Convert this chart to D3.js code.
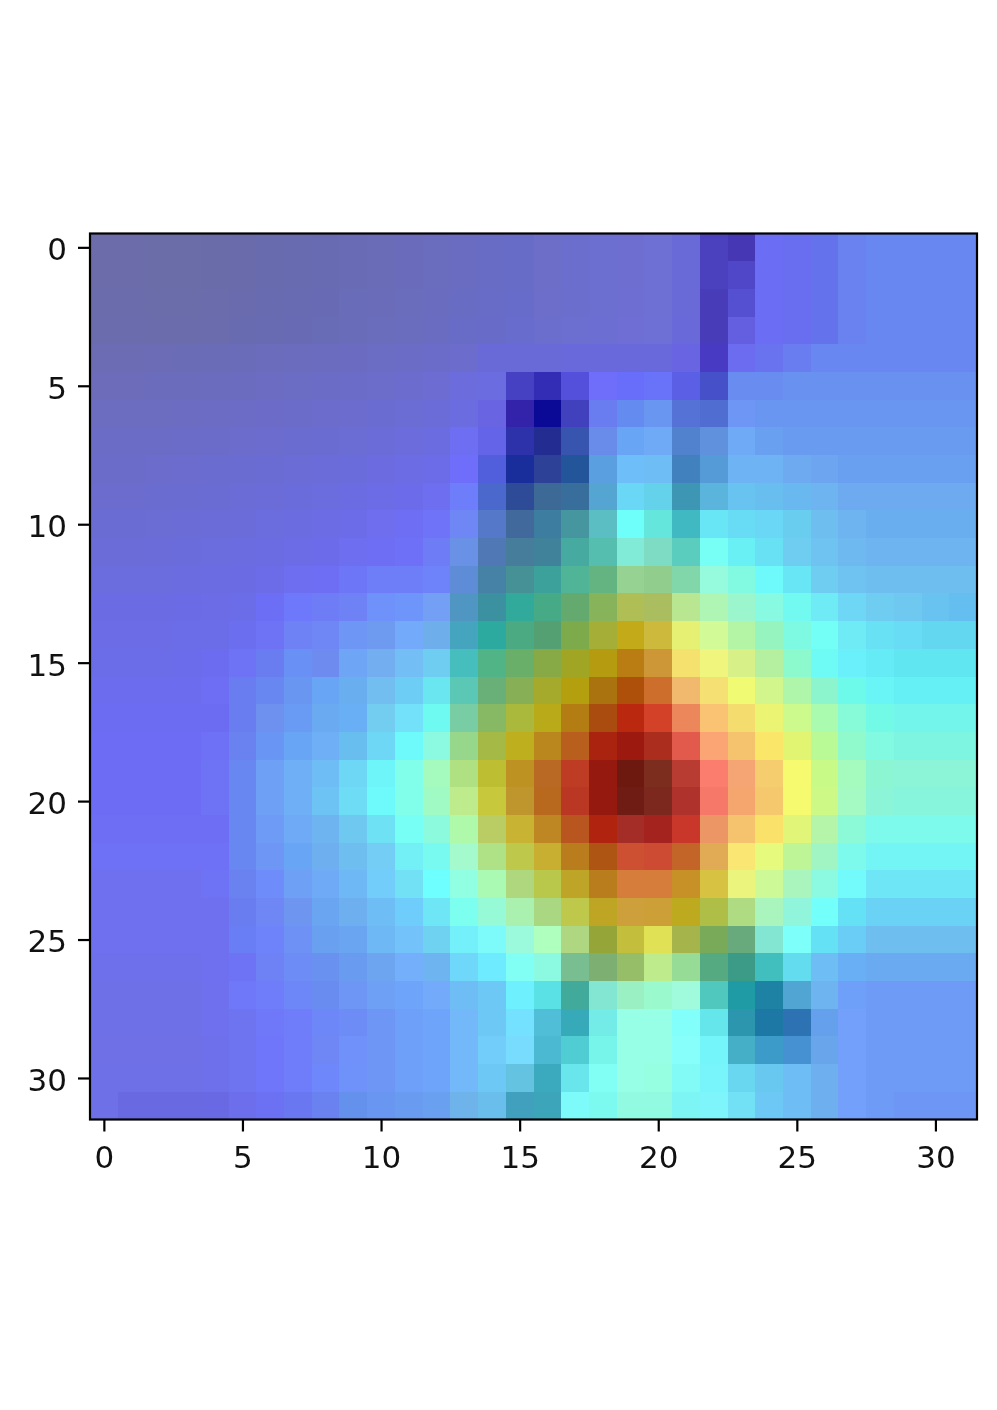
<!DOCTYPE html>
<html>
<head>
<meta charset="utf-8">
<script src="https://cdn.jsdelivr.net/npm/d3@7"></script>
<style>
  body { margin: 0; background: #fff; }
  svg { display: block; filter: blur(0.5px); }
</style>
</head>
<body>
<div id="chart-container"></div>
<script>
// the picture is an RGB image, so each cell value is an rgb hex, one string per row
const pixelRows = [
  "6b6ca9 6b6ca9 6b6da9 6b6da9 6a6ca9 696bab 686bae 686bb0 686bb2 696cb5 6a6cb8 6a6cbb 6a6cbe 696cc1 686cc4 676cc7 6c6ec8 6c6ecd 6c6ed0 6e6ed0 6e70d4 6969d7 4b41be 4637b4 6b6ef5 696ef0 6473eb 6982f0 6987f0 6887f0 6887f0 6887f0",
  "6b6ca9 6b6ca9 6b6da9 6b6da9 6a6ca9 696bab 686bae 686bb0 686bb2 696cb5 6a6cb8 6a6cbb 6a6cbe 696cc1 686cc4 676cc7 6c6ec8 6c6ecd 6c6ed0 6e6ed0 6e70d4 6969d7 4b41be 5046c8 6b6ef5 696ef0 6473eb 6982f0 6987f0 6887f0 6887f0 6887f0",
  "6b6cab 6b6cab 6b6caa 6b6caa 6a6cab 696bae 686bb0 686bb2 686bb4 696cb8 6a6cba 6a6cbc 6a6cc0 696cc3 686cc6 676cca 6c6eca 6c6ecd 6c6ed0 6e6ed2 6e70d4 6969d7 483cb9 5550d2 6b6ef5 696ef0 6473eb 6982f0 6987f0 6887f0 6887f0 6887f0",
  "6b6cad 6b6cad 6b6cab 6b6cab 6a6cad 696bb0 686bb2 686bb4 686bb6 696cb9 6a6cbc 6a6cbe 6a6cc2 696cc6 686cc8 676ccd 6c6ecd 6c6ed0 6c6ed2 6e6ed4 6e70d6 6969d9 483cb9 645fe1 6b6ef5 696ef0 6473eb 6982f0 6987f0 6887f0 6887f0 6887f0",
  "6b6cb4 6b6cb4 6b6cb5 6b6cb6 6b6cb7 6b6cb9 6b6cbb 6b6cbd 6b6cbf 6b6cc1 6b6cc3 6b6cc6 6b6cc9 6c6ccd 6969d7 6969d7 6969d7 6969dc 6969dc 6969dc 6969dc 6964e1 483ac3 6c6cf0 6973f0 697df0 6987f0 6987f0 6987f0 6987f0 6987f0 6987f0",
  "6c6cbb 6c6cbb 6c6cbc 6c6cbd 6c6cbe 6b6cc0 6b6cc2 6b6cc4 6b6cc6 6b6cc8 6c6ccb 6c6cce 6c6cd2 6c6cdc 6c6ce1 4641c3 322db4 5550dc 6e6efa 696efa 6973fa 5a5fe6 4650c8 698cf0 698cf0 6991f0 6991f0 6991f0 6991f0 6991f0 6991f0 6991f0",
  "6c6cc0 6c6cc0 6c6cc1 6c6cc2 6c6cc4 6c6cc6 6c6cc8 6b6cca 6b6ccc 6b6cce 6b6cd1 6b6cd4 6c6cd8 6c6ce1 6964e1 3223aa 0a0a96 4141be 697df0 648cf0 6996f0 5573d7 506ed2 6e96f5 6996f0 6996f0 6996f0 6996f0 6996f0 6996f0 6996f0 6996f0",
  "6b6cc5 6b6cc5 6b6cc6 6b6cc8 6b6cca 6b6ccc 6b6cce 6b6cd0 6b6cd2 6c6cd5 6c6cd8 6c6cdc 6c6ce1 6e6ef2 6464e8 2d32aa 232d91 3755af 698ceb 69a5f5 6eaaf5 5082cd 5f91dc 6eaaf5 69a0f0 699bf0 699bf0 699bf0 699bf0 699bf0 699bf0 699bf0",
  "6b6cca 6b6cca 6b6ccb 6b6ccd 6b6ccf 6b6cd1 6b6cd3 6b6cd6 6b6cd9 6b6cdc 6c6ce0 6c6ce4 6c6ce8 6e6efa 525fdc 192d9b 2d4196 23559b 5aa0e1 6ebefa 6ebef5 4182be 559bd7 6eb4f5 6eb4f5 6eaaf0 6ea5f0 69a0f0 69a0f0 69a0f0 69a0f0 69a0f0",
  "6b6cce 6b6cce 6b6ccf 6b6cd1 6b6cd3 6b6cd5 6b6cd8 6b6cdb 6b6cde 6c6ce2 6c6ce6 6c6cea 6e6ef0 6e7dfa 4b69cd 2d4b96 3c6996 376e9b 55a5d2 69d7f5 64d2eb 3c96b4 5ab4dc 69c3f0 69bef0 69b9f0 6eb4f0 6eaaf0 6eaaf0 6eaaf0 6eaaf0 6eaaf0",
  "6b6cd3 6b6cd3 6b6cd4 6b6cd6 6b6cd8 6b6cda 6b6cdd 6b6ce0 6c6ce4 6c6ce9 6e6eee 6e6ef4 6e73f8 6e87f5 5578c8 41699b 3c7da0 4696a0 5abec3 6efffa 64e6dc 41b9c3 69e6f5 69dcf5 69d7f5 69cdf0 6ebef0 6eb4f0 69aff0 69aff0 69aff0 69aff0",
  "6b6cd8 6b6cd8 6b6cd9 6b6cdb 6b6cdd 6b6cdf 6c6ce2 6c6ce6 6c6ceb 6e6ef0 6e6ef4 6e70f7 6e7df5 6991e6 5078b4 467d9b 41829b 46aaa0 55beaf 82ebd7 7ddcc3 5acdbe 78fff5 69f0f5 69e1f5 6ecdf0 6ec3f0 6eb9f0 6eb4f0 6eb4f0 6eb4f0 6eb4f0",
  "6b6cdd 6b6cdd 6b6cde 6b6ce0 6b6ce2 6b6ce4 6c6ce9 6e6ef0 6e6ef5 6e76f8 6e7df8 6e7df8 6e82fa 5f8cd7 4682a5 469196 3ca09b 50b496 64b482 96d291 91cd8c 82d7aa 96fadc 82fae1 6efafa 69e6f5 6ecdf0 6ec3f0 6ebef0 6ebef0 6ebef0 6ebef0",
  "6b6ce3 6b6ce3 6b6ce4 6b6ce5 6b6ce6 6b6ce8 6c6ef5 6e78fa 6e7df5 6e82f5 6e91fa 6e96fa 73a0f5 5096c3 3c91a0 32aa9b 46aa87 64aa6e 87b45a afbe55 aabe5f b9e691 aff5b4 9bf5cd 87fae1 73faf0 6eebf5 6ed7f5 6ecdf0 6ec8f0 69c3f0 64bef0",
  "6b6ce6 6b6ce6 6b6ce6 6b6ce7 6b6ce8 6c6ef0 6e73f5 6e82f5 6e87f5 6e96f5 6e9bf0 73aafa 6eafeb 46a5be 2daaa0 4baa82 55a073 7daa4b a5af37 c3aa19 cdb93c e6f073 d2fa96 b4f5a5 96f5be 7dfae1 73fff5 6eebf5 69e1f5 69dcf5 64d7f0 64d7f0",
  "6b6ce8 6b6ce8 6b6ce8 6b6ceb 6c6cf0 6e73f5 697df0 6991f5 6e8cf0 6ea5f5 73aff0 73bef5 6ecdf0 46bebe 50b487 69af69 87aa46 a0a523 b49b0f b97d14 cd9637 f5e16e f0f57d d7f087 b4f0a0 8cfacd 6efaf5 69f0fa 64ebf5 5fe6f0 5fe6f0 5fe6f0",
  "6c6cee 6c6cee 6c6cee 6c6cee 6e6ef5 697df0 6987f0 6996f0 69a5f5 69aff0 73bef0 6ecdf5 69e6f0 5ac8b4 69af78 87af55 a5aa2d b4a00f aa730f af500a cd6e2d f0b96e f5e173 f0fa73 d2f58c aff5aa 8cf5cd 6efaeb 69f5f5 64f0f5 64f0f5 64f0f5",
  "6c6cf2 6c6cf2 6c6cf2 6c6cf2 6c6cf2 697df0 6e91f0 699bf5 69aaf0 69aff5 73cdf0 73e1fa 6efaf0 78cda5 87b964 aab93c b9aa19 b47d14 aa4b0f b9280f d24128 eb875a fac373 f5dc6e ebf573 cdfa8c aafaaf 87fad7 73fae6 73f5eb 73f5eb 73f5eb",
  "6c6cf5 6c6cf5 6c6cf5 6c6cf5 6e70f5 6982f0 6996f5 69a5f5 6eaff5 69bef0 6ed7f5 6efafa 8cfae1 96d78c a5b946 beaf1e b9871e b95f1e aa230f 9b190f aa2d1e e15a4b faa573 f5c36e fae669 e1f573 b9fa96 91facd 82fae1 7df5e1 7df5e1 7df5e1",
  "6c6cf5 6c6cf5 6c6cf5 6c6cf5 6e73f5 6987f0 6ea0f5 6eaff5 6ebef5 6ed7f5 6ef5fa 82ffeb a5fabe afe182 bebe32 be9123 b96923 be3c23 96190f 6e190f 7d2d1e b93c32 fa7d6e f5a573 f5cd6e f5fa6e c8fa87 a5fabe 8cf5d2 8cf5d7 8cf5d7 8cf5d7",
  "6c6cf5 6c6cf5 6c6cf5 6c6cf5 6e73f5 6987f0 6ea0f5 6eaff5 6ec3f5 6edcf5 6efafa 82ffeb a0fac3 beeb8c c8c83c be962d b9691e b93723 96190f 6e1c14 7d281e af322d f57869 f5a56e f5c86e f5fa6e cdfa87 a5fac3 8cf5d7 87f5dc 87f5dc 87f5dc",
  "6e6ef5 6e6ef5 6e6ef5 6e6ef5 6e6ef5 6987f0 6e9bf5 6eaaf5 6eb4f0 6ec8f0 6ee1f5 78fff5 8cfadc affaaa b9cd64 c8b432 be8723 b9551e af230f a52d28 a5231e c83729 eb9664 f5c36e fae169 e1f578 b4f5aa 8cfad7 7dfaeb 7dfaeb 7dfaeb 7dfaeb",
  "6e70f5 6e70f5 6e70f5 6e70f5 6e70f5 6987f0 6e96f5 69a5f5 6eaff0 6ebef0 73cdf5 73f0f5 78faf0 a5facd afe187 bec84b c8af32 b97d1e af5514 cd5032 cd4b32 c36428 e1aa55 fae673 e6fa7d bef596 a0f5c3 7dfaeb 73f5f5 73f5f5 73f5f5 73f5f5",
  "6e70f0 6e70f0 6e70f0 6e70f0 6e73f5 6982f0 6e8cfa 6ea0f5 6eaaf5 6eb9f5 73cdfa 73e1f5 6effff 91ffe1 aafab4 afd77d b9c84b bea528 b97d1e d77d3c d77d3c c89128 d7c341 ebf57d cdfa96 aaf5be 8cfae1 73fafa 6ee6f5 6ee6f5 6ee6f5 6ee6f5",
  "6e70f0 6e70f0 6e70f0 6e70f0 6e70f0 697df0 6e87f5 6e96f0 69a5f0 6eaff0 6ebef5 6ecdfa 6ee6f5 7dfff0 96fad7 aaf0af aad782 bec84b bea523 cda03c cda037 beaa1e afbe46 afdc82 aaf5be 91f5dc 73fffa 64e1f5 69d2f5 69d2f5 69d2f5 69d2f5",
  "6e70f0 6e70f0 6e70f0 6e70f0 6e70f0 697df5 6e82fa 6e91f5 69a0f0 69a5f0 6eb9f5 73c3fa 6ed2f0 73f0fa 7dfafa 9bfadc afffbe afd782 96a537 c3be3c e1e155 a5b44b 78aa5a 69aa7d 82e6d2 7dfffa 64e1f5 69cdf5 6ebef0 6ebef0 6ebef0 6ebef0",
  "6e70eb 6e70eb 6e70eb 6e70eb 6e70f0 6e73f5 6e82f5 6e8cf5 6991f0 699bf0 6ea5f0 73affa 6eb4f0 6ed7fa 6eebff 82fff5 8cfae1 78be91 7daf73 96be69 beeb8c 96dc96 55aa82 3c9b87 41bebe 64dcf0 6ebef5 69aff5 69aaf0 69aaf0 69aaf0 69aaf0",
  "6e70e8 6e70e8 6e70e8 6e70e8 6e70ee 7078fa 707dfa 6e87f8 698cf0 6e96f5 6ea0f5 6ea5fa 73aafa 6ebef5 6ec8f5 6ef0ff 5ae1e6 41aa9b 82e6d2 9bf0c3 9bfacd a0fadc 50c8be 1e9ba5 1e82a5 50a5d2 6eb4f0 6ea0fa 6e9bf5 6e9bf5 6e9bf5 6e9bf5",
  "6e70e8 6e70e8 6e70e8 6e70e8 6e70ee 6e73f0 7078fa 707dfa 6e87f8 6e8cf5 6e96f5 6ea0fa 6ea5fa 73b9fa 6ec8f5 73e1ff 50bed7 37aab9 73ebe6 96ffe6 96ffe6 82fffa 64e6eb 2d96af 1e78a5 2d73b4 64a0eb 73a0fa 6e9bf5 6e9bf5 6e9bf5 6e9bf5",
  "7070e6 7070e6 7070e6 7070e6 6e70eb 6e73f0 7076fa 707dfa 6e87f5 7091fa 6e96f5 6ea0fa 6ea5fa 73b9fa 73cdfa 78dcff 4bb9d2 50cdd2 78f5eb 96ffe6 96ffe6 87fffa 73f5fa 46afc8 3c9bc8 4691d2 69a5eb 73a0fa 6e9bf5 6e9bf5 6e9bf5 6e9bf5",
  "6e70e8 6e70e8 6e70e8 6e70e8 6e70eb 6e73f0 7076fa 707dfa 6e87fa 6e91fa 6e96f5 6ea0fa 6ea5fa 73b9fa 6ec8f5 64c3e1 3caabe 69e6eb 82fff5 96ffe6 96ffe1 82faf5 78f5fa 69d7f0 69c8f0 6ebef5 6eaff0 73a0fa 6e9bf5 6e9bf5 6e9bf5 6e9bf5",
  "6e70e8 6969e1 6969e1 6969e1 6969e4 6c6eeb 6c70f2 6978f0 6982f0 6491eb 6996f0 699bf0 69a0f0 6eb4eb 69beeb 41a0be 3ca5b9 7dfafa 7dfaf0 91fae1 91fae1 7df5f5 7df5fa 73e1f5 6ec8f5 6ebef5 6eaff0 73a0fa 6e9bf5 6e96f5 6e96f5 6e96f5"
];
const tickValues = [0, 5, 10, 15, 20, 25, 30];

const width = 997;
const height = 1410;
const margin = { top: 233.5, right: 20, bottom: 290.5, left: 90 };

const rows = pixelRows.map((row) => row.split(" "));

const x = d3
  .scaleLinear()
  .domain([-0.5, 31.5])
  .range([margin.left, width - margin.right]);

const y = d3
  .scaleLinear()
  .domain([-0.5, 31.5])
  .range([margin.top, height - margin.bottom]);

const svg = d3
  .select("#chart-container")
  .append("svg")
  .attr("width", width)
  .attr("height", height);

// image cells
svg
  .append("g")
  .attr("shape-rendering", "crispEdges")
  .selectAll("g")
  .data(rows)
  .join("g")
  .each(function (row, r) {
    d3.select(this)
      .selectAll("rect")
      .data(row)
      .join("rect")
      .attr("x", (d, c) => x(c - 0.5))
      .attr("y", y(r - 0.5))
      .attr("width", (d, c) => x(c + 0.5) - x(c - 0.5))
      .attr("height", y(r + 0.5) - y(r - 0.5))
      .attr("fill", (d) => "#" + d);
  });

// axes
const xAxis = d3.axisBottom(x).tickValues(tickValues).tickSize(12).tickPadding(14);
const yAxis = d3.axisLeft(y).tickValues(tickValues).tickSize(12).tickPadding(11);

svg
  .append("g")
  .attr("transform", `translate(0,${y(31.5)})`)
  .call(xAxis)
  .call((g) => g.select(".domain").remove());

svg
  .append("g")
  .attr("class", "y-axis")
  .attr("transform", `translate(${x(-0.5)},0)`)
  .call(yAxis)
  .call((g) => g.select(".domain").remove());

svg
  .selectAll(".tick text")
  .attr("font-family", "DejaVu Sans")
  .attr("font-size", 31)
  .attr("fill", "#111");

// labels sit a little under their tick in the reference
svg.selectAll(".y-axis .tick text").attr("dy", "0.4em");

svg.selectAll(".tick line").attr("stroke", "#000").attr("stroke-width", 2.2);

// frame
svg
  .append("rect")
  .attr("x", x(-0.5))
  .attr("y", y(-0.5))
  .attr("width", x(31.5) - x(-0.5))
  .attr("height", y(31.5) - y(-0.5))
  .attr("fill", "none")
  .attr("stroke", "#000")
  .attr("stroke-width", 2.2);
</script>
</body>
</html>
